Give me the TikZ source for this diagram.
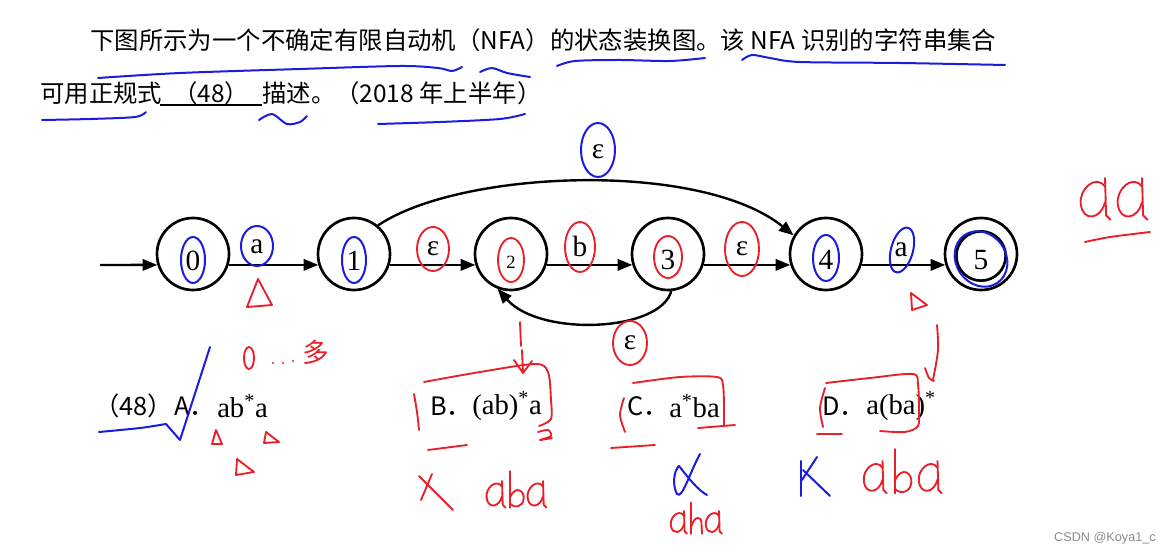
\documentclass[tikz,border=0pt]{standalone}
\usepackage{fontspec}
\setmainfont{Liberation Serif}
\newfontfamily\cjk{Noto Sans CJK SC}
\newfontfamily\hand{Liberation Sans}
\usetikzlibrary{arrows.meta,calc}
\definecolor{penred}{RGB}{232,32,42}
\definecolor{penblue}{RGB}{28,28,222}
\begin{document}
\begin{tikzpicture}[x=0.75pt,y=-0.75pt,
  state/.style={circle,draw,line width=2pt,minimum size=54pt,inner sep=0pt},
  inner/.style={circle,draw,line width=2pt,minimum size=37pt,inner sep=0pt},
  edge/.style={line width=1.8pt,-{Triangle[length=11pt,width=8.5pt]}},
  lbl/.style={font=\fontsize{22}{24}\selectfont,inner sep=0pt},
  txt/.style={font=\cjk\fontsize{18.3}{22}\selectfont,inner sep=0pt},
  opt/.style={font=\cjk\fontsize{19}{22}\selectfont,inner sep=0pt},
  optm/.style={font=\fontsize{21.5}{24}\selectfont,inner sep=0pt},
  pr/.style={draw=penred,line width=1.4pt,line cap=round,line join=round},
  pb/.style={draw=penblue,line width=1.5pt,line cap=round,line join=round},
  pics/hwa/.style={code={
    \draw[pr] (10,-12) .. controls (2,-24) and (-14,-10) .. (-12,4) .. controls (-10,20) and (6,18) .. (10,2);
    \draw[pr] (10,-20) -- (11,14) -- (15,18);}},
  pics/hwb/.style={code={
    \draw[pr] (-8,-34) -- (-8,18);
    \draw[pr] (-8,2) .. controls (0,-14) and (12,-6) .. (11,5) .. controls (10,18) and (-3,19) .. (-8,13);}},
  pics/hwh/.style={code={
    \draw[pr] (-8,-34) -- (-8,18);
    \draw[pr] (-8,6) .. controls (-3,-12) and (9,-12) .. (9,-1) -- (10,18);}}]
\useasboundingbox (0,0) rectangle (1171,555);
\fill[white] (0,0) rectangle (1171,555);

% ---------- printed text ----------
\node[txt,anchor=west] (l1) at (90,40) {下图所示为一个不确定有限自动机（NFA）的状态装换图。该 NFA 识别的字符串集合};
\node[txt,anchor=west] (l2a) at (40,93) {可用正规式};
\node[txt] (l2b) at (211,93) {（48）};
\coordinate (u1) at (160,105);
\coordinate (u2) at (262,105);
\draw[line width=1.5pt] (u1) -- (u2);
\node[txt,anchor=west] (l2c) at (262,93) {描述。（2018 年上半年）};

% ---------- automaton ----------
\node[state] (s0) at (193,254) {};
\node[state] (s1) at (354,254) {};
\node[state] (s2) at (511,254) {};
\node[state] (s3) at (668,254) {};
\node[state] (s4) at (826,254) {};
\node[state] (s5) at (981,254) {};
\node[inner] (s5i) at (981,256) {};
\node[lbl] (d0) at (193,261) {0};
\node[lbl] (d1) at (354,261) {1};
\node[lbl,font=\fontsize{14}{16}\selectfont] (d2) at (511,262) {2};
\node[lbl] (d3) at (668,260) {3};
\node[lbl] (d4) at (826,260) {4};
\node[lbl] (d5) at (981,260) {5};

\coordinate (start) at (100,265);
\draw[edge] (start) -- (s0.197.8);
\draw[edge] (s0.-17.8) -- (s1.197.8);
\draw[edge] (s1.-17.8) -- (s2.197.8);
\draw[edge] (s2.-17.8) -- (s3.197.8);
\draw[edge] (s3.-17.8) -- (s4.197.8);
\draw[edge] (s4.-17.8) -- (s5.197.8);
\draw[edge] (s1.50) .. controls (460,170) and (700,160) .. (s4.150);
\draw[edge] (s3.-85) .. controls (660,332) and (540,337) .. (s2.249);

\node[lbl] (e01) at (257,247) {a};
\node[lbl] (e12) at (433,249) {ε};
\node[lbl] (e23) at (580,246) {b};
\node[lbl] (e34) at (742,249) {ε};
\node[lbl] (e45) at (901,250) {a};
\node[lbl] (e14) at (598,152) {ε};
\node[lbl] (e32) at (630,343) {ε};

% ---------- options ----------
\node[opt,anchor=west] (q) at (94,406) {（48）};
\node[opt,anchor=west] (oa) at (174,406) {A．};
\node[optm,anchor=west] (oam) at (217,406) {ab\textsuperscript{*}a};
\node[opt,anchor=west] (ob) at (430,406) {B．};
\node[optm,anchor=west] (obm) at (472,406) {(ab)\textsuperscript{*}a};
\node[opt,anchor=west] (oc) at (627,406) {C．};
\node[optm,anchor=west] (ocm) at (669,406) {a\textsuperscript{*}ba};
\node[opt,anchor=west] (od) at (822,406) {D．};
\node[optm,anchor=west] (odm) at (866,406) {a(ba)\textsuperscript{*}};

\node[anchor=east,text=black!45,font=\hand\fontsize{9.5}{11}\selectfont,inner sep=0pt] (wm) at (1156,538) {CSDN @Koya1\_c};

% ---------- blue pen ----------
\draw[pb] plot[smooth] coordinates {(98,78)(180,73)(300,69)(400,66)(438,68)(452,71)(462,67)};
\draw[pb] plot[smooth] coordinates {(480,72)(492,68)(507,73)(530,77)};
\draw[pb] plot[smooth] coordinates {(557,66)(575,61)(620,60)(670,61)(705,58)};
\draw[pb] plot[smooth] coordinates {(742,60)(752,55)(770,58)(800,62)(900,63)(1005,65)};
\draw[pb] plot[smooth] coordinates {(42,120)(90,119)(135,117)(146,112)};
\draw[pb] plot[smooth] coordinates {(259,120)(272,114)(287,124)(300,122)(307,116)};
\draw[pb] plot[smooth] coordinates {(378,124)(440,122)(500,119)(525,114)};
\draw[pb] (193,260) ellipse [x radius=12, y radius=23];
\draw[pb] (257,246) ellipse [x radius=16, y radius=20];
\draw[pb] (354,260) ellipse [x radius=12, y radius=23];
\draw[pb] (598,150) ellipse [x radius=17, y radius=27];
\draw[pb] (826,258) ellipse [x radius=13, y radius=23];
\draw[pb,rotate around={-15:(902,250)}] (902,250) ellipse [x radius=11, y radius=23];
\draw[pb,rotate around={35:(981,259)}] (981,259) ellipse [x radius=25, y radius=29];
\draw[pb] plot[smooth] coordinates {(99,432)(140,428)(166,424)} -- (180,440) -- (210,347);
\draw[pb] (700,454) .. controls (690,472) and (682,500) .. (677,494) .. controls (672,485) and (674,470) .. (679,466) .. controls (690,480) and (698,490) .. (707,495);
\draw[pb] (801,461) -- (801,496);
\draw[pb] (803,470) -- (830,496);
\draw[pb] (817,457) -- (802,480);

% ---------- red pen ----------
\draw[pr] (433,249) ellipse [x radius=16, y radius=22];
\draw[pr] (511,260) ellipse [x radius=13, y radius=22];
\draw[pr] (580,247) ellipse [x radius=15, y radius=25];
\draw[pr] (668,257) ellipse [x radius=14, y radius=21];
\draw[pr] (742,249) ellipse [x radius=17, y radius=27];
\draw[pr] (630,343) ellipse [x radius=17, y radius=22];
\draw[pr] (258,279) -- (247,307) -- (272,305) -- cycle;
\draw[pr] (911,293) -- (912,310) -- (927,305) -- cycle;
\draw[pr] (216,430) -- (212,444) -- (222,444) -- cycle;
\draw[pr] (266,432) -- (264,443) -- (279,442) -- cycle;
\draw[pr] (237,459) -- (236,475) -- (254,472) -- cycle;
% aa
\pic[scale=1.1] at (1094,200) {hwa};
\pic[scale=1.1] at (1131,200) {hwa};
\draw[pr] plot[smooth] coordinates {(1085,242)(1110,237)(1150,232)};
\draw[pr] (249,358) ellipse [x radius=5, y radius=11];
\fill[penred] (273,363) circle (1.2) (283,363) circle (1.2) (293,361) circle (1.2);
\node[text=penred,font=\cjk\fontsize{20}{22}\selectfont,inner sep=0pt] (many) at (316,352) {多};
% B
\draw[pr] (520,322) -- (521,346);
\draw[pr] (522,350) -- (523,373);
\draw[pr] (514,360) -- (523,373) -- (532,361);
\draw[pr] plot[smooth] coordinates {(424,382)(480,372)(535,364)(548,372)(551,400)(551,419)(539,426)};
\draw[pr] plot[smooth] coordinates {(538,432)(548,430)(551,436)(540,440)(552,438)};
\draw[pr] plot[smooth] coordinates {(414,394)(417,412)(419,430)};
\draw[pr] (428,450) -- (467,445);
\draw[pr] (419,476) -- (453,510);
\draw[pr] (432,474) -- (421,500);
\pic[scale=0.7] at (495,495) {hwa};
\pic[scale=0.7] at (516,495) {hwb};
\pic[scale=0.7] at (536,495) {hwa};
% C
\draw[pr] plot[smooth] coordinates {(624,398)(620,415)(625,432)};
\draw[pr] plot[smooth] coordinates {(633,383)(680,377)(717,377)(723,385)(724,410)(724,426)};
\draw[pr] (698,428) -- (735,425);
\draw[pr] (611,448) -- (655,445);
\pic[scale=0.6] at (678,523) {hwa};
\pic[scale=0.6] at (696,523) {hwh};
\pic[scale=0.6] at (713,523) {hwa};
% D
\draw[pr] plot[smooth] coordinates {(937,325)(938,350)(933,380)};
\draw[pr] plot[smooth] coordinates {(925,368)(929,378)(934,381)};
\draw[pr] plot[smooth] coordinates {(826,383)(870,378)(913,374)(918,385)(919,410)(918,426)(905,432)(880,431)};
\draw[pr] plot[smooth] coordinates {(825,388)(820,408)(823,427)};
\draw[pr] (817,434) -- (842,434);
\pic[scale=0.85] at (874,478) {hwa};
\pic[scale=0.85] at (902,478) {hwb};
\pic[scale=0.85] at (929,478) {hwa};
\end{tikzpicture}
\end{document}
